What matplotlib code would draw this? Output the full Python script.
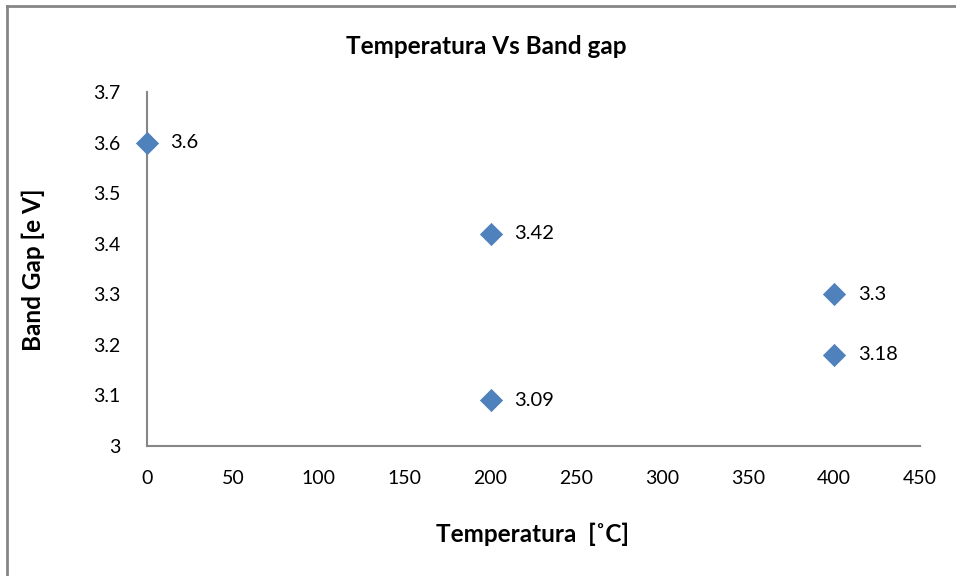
import matplotlib
matplotlib.use("Agg")
import matplotlib.pyplot as plt
from matplotlib.lines import Line2D

temperatura = [0, 200, 200, 400, 400]
band_gap = [3.6, 3.42, 3.09, 3.3, 3.18]
labels = ["3.6", "3.42", "3.09", "3.3", "3.18"]
x_ticks = [0, 50, 100, 150, 200, 250, 300, 350, 400, 450]
y_ticks = [3, 3.1, 3.2, 3.3, 3.4, 3.5, 3.6, 3.7]
y_tick_labels = ["3", "3.1", "3.2", "3.3", "3.4", "3.5", "3.6", "3.7"]

plt.rcParams['font.family'] = ['Lato', 'DejaVu Sans']

W, H = 956, 576
fig = plt.figure(figsize=(W/100, H/100), dpi=100)
ax = fig.add_axes([147/W, 1-446/H, (920-147)/W, (446-92)/H])

ax.scatter(temperatura, band_gap, marker='D', s=140, color='#4F81BD', zorder=3, clip_on=False, linewidths=0)
for xv, yv, lab in zip(temperatura, band_gap, labels):
    ax.annotate(lab, (xv, yv), xytext=(17, 0), textcoords='offset points',
                va='center', ha='left', fontsize=14.5, color='black')

ax.set_xlim(0, 450)
ax.set_ylim(3, 3.7)
ax.set_xticks(x_ticks)
ax.set_yticks(y_ticks)
ax.set_yticklabels(y_tick_labels)
ax.tick_params(length=0, labelsize=14, colors='black')
ax.tick_params(axis='x', pad=17)
ax.tick_params(axis='y', pad=19)
for s in ['top', 'right']:
    ax.spines[s].set_visible(False)
for s in ['left', 'bottom']:
    ax.spines[s].set_color('#868686')
    ax.spines[s].set_linewidth(1.5)

fig.text(486/W, 1-47/H, "Temperatura Vs Band gap", ha='center', va='center', fontsize=17.5, fontweight='bold')
fig.text(532/W, 1-534/H, "Temperatura  [˚C]", ha='center', va='center', fontsize=17.5, fontweight='bold')
fig.text(33/W, 1-270/H, "Band Gap [e V]", ha='center', va='center', fontsize=17.5, fontweight='bold', rotation=90)

fig.add_artist(Line2D([7/W, 7/W], [0, 1-6/H], transform=fig.transFigure, color='#868686', lw=2))
fig.add_artist(Line2D([7/W, 1], [1-6/H, 1-6/H], transform=fig.transFigure, color='#868686', lw=2))

fig.savefig("out.png", dpi=100)
